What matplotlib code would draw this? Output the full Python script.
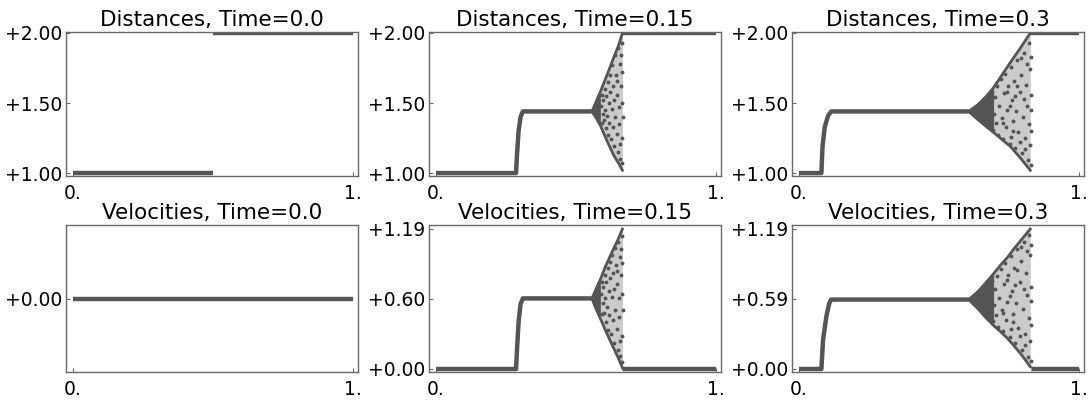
import matplotlib
matplotlib.use('Agg')
import matplotlib.pyplot as plt
import numpy as np

plt.rcParams['font.family'] = ['DejaVu Sans']

# ---- data ----
times = ['0.0', '0.15', '0.3']

# flat parts: (x, y) polylines, NaN splits pieces
dist0_x = [0.0, 0.5, np.nan, 0.5, 1.0]
dist0_y = [1.0, 1.0, np.nan, 2.0, 2.0]
vel0_x = [0.0, 1.0]
vel0_y = [0.0, 0.0]

dist15_x = [0.0, 0.286, 0.289, 0.295, 0.302, 0.31, 0.557, np.nan, 0.666, 1.0]
dist15_y = [1.0, 1.0, 1.12, 1.30, 1.40, 1.44, 1.44, np.nan, 2.0, 2.0]
vel15_x = [0.0, 0.286, 0.289, 0.295, 0.302, 0.31, 0.557, np.nan, 0.666, 1.0]
vel15_y = [0.0, 0.0, 0.15, 0.40, 0.55, 0.60, 0.60, np.nan, 0.0, 0.0]

dist30_x = [0.0, 0.080, 0.084, 0.092, 0.104, 0.115, 0.606, np.nan, 0.826, 1.0]
dist30_y = [1.0, 1.0, 1.19, 1.33, 1.41, 1.44, 1.44, np.nan, 2.0, 2.0]
vel30_x = [0.0, 0.080, 0.086, 0.098, 0.108, 0.115, 0.606, np.nan, 0.830, 1.0]
vel30_y = [0.0, 0.0, 0.25, 0.45, 0.56, 0.59, 0.59, np.nan, 0.0, 0.0]

# fan envelopes
fan_d15_x = [0.557, 0.570, 0.587, 0.611, 0.634, 0.652, 0.666]
fan_d15_hi = [1.44, 1.50, 1.58, 1.70, 1.82, 1.91, 2.00]
fan_d15_lo = [1.44, 1.40, 1.34, 1.23, 1.13, 1.07, 1.02]

fan_v15_x = [0.557, 0.570, 0.587, 0.605, 0.630, 0.650, 0.666]
fan_v15_hi = [0.60, 0.67, 0.76, 0.87, 1.00, 1.10, 1.19]
fan_v15_lo = [0.60, 0.52, 0.43, 0.33, 0.20, 0.10, 0.01]

fan_d30_x = [0.606, 0.640, 0.670, 0.695, 0.725, 0.755, 0.790, 0.826]
fan_d30_hi = [1.44, 1.49, 1.55, 1.61, 1.70, 1.79, 1.89, 2.00]
fan_d30_lo = [1.44, 1.38, 1.33, 1.29, 1.24, 1.19, 1.11, 1.02]

fan_v30_x = [0.606, 0.640, 0.670, 0.695, 0.719, 0.745, 0.767, 0.795, 0.826]
fan_v30_hi = [0.59, 0.66, 0.74, 0.81, 0.88, 0.95, 1.02, 1.10, 1.19]
fan_v30_lo = [0.59, 0.51, 0.43, 0.37, 0.32, 0.26, 0.20, 0.12, 0.02]

# scattered points inside the fans
pts_d15_x = [0.590, 0.592, 0.594, 0.596, 0.598, 0.600, 0.602, 0.605, 0.607, 0.609,
             0.611, 0.613, 0.615, 0.617, 0.619, 0.621, 0.623, 0.625, 0.627, 0.629,
             0.631, 0.633, 0.635, 0.637, 0.639, 0.641, 0.643, 0.645, 0.647, 0.649,
             0.651, 0.653, 0.655, 0.657, 0.659, 0.661, 0.663, 0.664, 0.665, 0.666,
             0.666, 0.667, 0.662, 0.656, 0.648]
pts_d15_y = [1.48, 1.36, 1.56, 1.42, 1.52, 1.38, 1.60, 1.45, 1.32, 1.55,
             1.41, 1.65, 1.27, 1.50, 1.36, 1.70, 1.58, 1.24, 1.46, 1.77,
             1.33, 1.62, 1.19, 1.52, 1.84, 1.40, 1.70, 1.28, 1.56, 1.15,
             1.89, 1.47, 1.35, 1.78, 1.10, 1.62, 1.25, 1.93, 1.50, 1.07,
             1.72, 1.40, 1.84, 1.21, 1.66]

pts_v15_x = pts_d15_x
pts_v15_y = [0.64, 0.47, 0.74, 0.56, 0.70, 0.48, 0.80, 0.60, 0.40, 0.74,
             0.53, 0.86, 0.33, 0.66, 0.46, 0.91, 0.77, 0.30, 0.61, 0.97,
             0.42, 0.82, 0.22, 0.68, 1.03, 0.50, 0.88, 0.34, 0.72, 0.16,
             1.08, 0.60, 0.44, 0.95, 0.11, 0.80, 0.28, 1.13, 0.64, 0.06,
             0.90, 0.50, 1.02, 0.24, 0.83]

pts_d30_x = [0.668, 0.672, 0.676, 0.680, 0.684, 0.688, 0.692, 0.696, 0.700, 0.704,
             0.708, 0.712, 0.716, 0.720, 0.724, 0.728, 0.732, 0.736, 0.740, 0.744,
             0.748, 0.752, 0.756, 0.760, 0.764, 0.768, 0.772, 0.776, 0.780, 0.784,
             0.788, 0.792, 0.796, 0.800, 0.804, 0.808, 0.812, 0.816, 0.818, 0.820,
             0.822, 0.824, 0.826, 0.827, 0.828, 0.828, 0.829, 0.830, 0.814, 0.802,
             0.790, 0.778, 0.766, 0.754, 0.742, 0.730, 0.806, 0.794, 0.770, 0.758]
pts_d30_y = [1.50, 1.38, 1.55, 1.33, 1.46, 1.58, 1.31, 1.42, 1.54, 1.36,
             1.62, 1.27, 1.48, 1.67, 1.39, 1.24, 1.57, 1.71, 1.33, 1.45,
             1.62, 1.21, 1.76, 1.52, 1.37, 1.66, 1.18, 1.44, 1.81, 1.29,
             1.58, 1.70, 1.14, 1.40, 1.86, 1.25, 1.63, 1.48, 1.09, 1.93,
             1.35, 1.74, 1.20, 1.56, 1.06, 1.83, 1.45, 1.30, 1.78, 1.53,
             1.22, 1.62, 1.30, 1.48, 1.58, 1.36, 1.17, 1.82, 1.55, 1.26]

pts_v30_x = pts_d30_x
pts_v30_y = [0.62, 0.50, 0.70, 0.45, 0.58, 0.75, 0.41, 0.54, 0.68, 0.46,
             0.79, 0.36, 0.60, 0.85, 0.50, 0.32, 0.72, 0.90, 0.42, 0.57,
             0.80, 0.27, 0.96, 0.66, 0.47, 0.86, 0.22, 0.56, 1.02, 0.35,
             0.74, 0.92, 0.16, 0.51, 1.08, 0.30, 0.82, 0.63, 0.10, 1.14,
             0.43, 0.97, 0.24, 0.70, 0.07, 1.05, 0.58, 0.37, 1.00, 0.68,
             0.28, 0.84, 0.40, 0.62, 0.76, 0.48, 0.20, 1.04, 0.71, 0.34]

dist_ticks = [1.0, 1.5, 2.0]
dist_labels = ['+1.00', '+1.50', '+2.00']
vel0_ticks = [0.0]
vel0_labels = ['+0.00']
vel15_ticks = [0.0, 0.595, 1.19]
vel15_labels = ['+0.00', '+0.60', '+1.19']
vel30_ticks = [0.0, 0.595, 1.19]
vel30_labels = ['+0.00', '+0.59', '+1.19']

# ---- drawing ----
C = '#555555'
FRAME = '#6a6a6a'

fig = plt.figure(figsize=(10.89, 4.03), dpi=100)

cols = [66, 429, 792]
W = 292
def add_ax(px_left, px_top, px_bottom):
    return fig.add_axes([px_left / 1089, (403 - px_bottom) / 403,
                         W / 1089, (px_bottom - px_top) / 403])

def style(ax, title, yticks, ylabels, ylim):
    ax.set_xlim(-0.025, 1.018)
    ax.set_ylim(*ylim)
    ax.set_xticks([0, 1])
    ax.set_xticklabels(['0.', '1.'])
    ax.set_yticks(yticks)
    ax.set_yticklabels(ylabels)
    ax.tick_params(direction='in', length=3, width=0.8, color=FRAME,
                   labelsize=13.5, pad=3)
    ax.tick_params(axis='x', pad=6)
    for s in ax.spines.values():
        s.set_color(FRAME)
        s.set_linewidth(1.0)
    ax.set_title(title, fontsize=15.5, pad=4)

def draw(ax, bx, by, fx=None, fhi=None, flo=None, px=None, py=None, dense_to=None):
    ax.plot(bx, by, color=C, lw=3.2, solid_capstyle='butt')
    if fx is None:
        return
    fx = np.array(fx)
    ax.plot(fx, fhi, color=C, lw=2.0)
    ax.plot(fx, flo, color=C, lw=2.0)
    ax.fill_between(fx, fhi, flo, where=fx <= dense_to, color=C, lw=0)
    ax.fill_between(fx, fhi, flo, color=C, alpha=0.3, lw=0)
    ax.plot(px, py, 'o', color=C, ms=2.8, mew=0)

dlim = (0.979, 2.007)
vlim = (-0.0255, 1.224)

a = add_ax(cols[0], 32, 176)
draw(a, dist0_x, dist0_y)
style(a, 'Distances, Time=0.0', dist_ticks, dist_labels, dlim)

a = add_ax(cols[1], 32, 176)
draw(a, dist15_x, dist15_y, fan_d15_x, fan_d15_hi, fan_d15_lo,
     pts_d15_x, pts_d15_y, 0.587)
style(a, 'Distances, Time=0.15', dist_ticks, dist_labels, dlim)

a = add_ax(cols[2], 32, 176)
draw(a, dist30_x, dist30_y, fan_d30_x, fan_d30_hi, fan_d30_lo,
     pts_d30_x, pts_d30_y, 0.695)
style(a, 'Distances, Time=0.3', dist_ticks, dist_labels, dlim)

a = add_ax(cols[0], 225, 372)
draw(a, vel0_x, vel0_y)
style(a, 'Velocities, Time=0.0', vel0_ticks, vel0_labels, (-1, 1))

a = add_ax(cols[1], 225, 372)
draw(a, vel15_x, vel15_y, fan_v15_x, fan_v15_hi, fan_v15_lo,
     pts_v15_x, pts_v15_y, 0.587)
style(a, 'Velocities, Time=0.15', vel15_ticks, vel15_labels, vlim)

a = add_ax(cols[2], 225, 372)
draw(a, vel30_x, vel30_y, fan_v30_x, fan_v30_hi, fan_v30_lo,
     pts_v30_x, pts_v30_y, 0.695)
style(a, 'Velocities, Time=0.3', vel30_ticks, vel30_labels, vlim)

fig.savefig('out.png', dpi=100)
